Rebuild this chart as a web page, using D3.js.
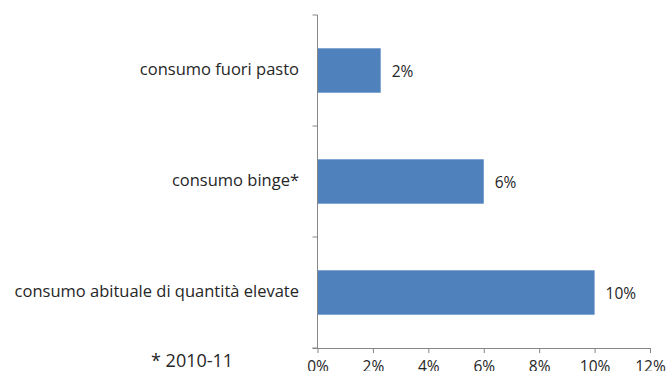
<!DOCTYPE html>
<html><head><meta charset="utf-8">
<script src="https://cdn.jsdelivr.net/npm/d3@7/dist/d3.min.js"></script>
<style>
html,body{margin:0;padding:0;background:#fff;overflow:hidden}
svg{display:block}
text{font-family:"Open Sans",sans-serif;fill:#262626}
</style></head>
<body>
<script>
const categories = ["consumo fuori pasto", "consumo binge*", "consumo abituale di quantità elevate"];
const values = [2.28, 6.0, 10.0];
const valueLabels = ["2%", "6%", "10%"];
const tickValues = [0, 2, 4, 6, 8, 10, 12];
const footnote = "* 2010-11";

const W = 668, H = 371;
const svg = d3.select("body").append("svg").attr("width", W).attr("height", H);

const x = d3.scaleLinear().domain([0, 12]).range([317.5, 650]);
const y = d3.scaleBand().domain(categories).range([15, 348]).paddingInner(0.6).paddingOuter(0.3);
const axisColor = "#868686";

// bars
svg.selectAll("rect.bar").data(values).enter().append("rect")
  .attr("x", x(0))
  .attr("y", (d, i) => y(categories[i]))
  .attr("width", d => x(d) - x(0))
  .attr("height", y.bandwidth())
  .attr("fill", "#4F81BD");

// value labels
svg.selectAll("text.val").data(values).enter().append("text")
  .attr("x", d => x(d) + 11)
  .attr("y", (d, i) => y(categories[i]) + y.bandwidth() / 2 + 2)
  .attr("dominant-baseline", "middle")
  .style("font-size", "15.5px")
  .text((d, i) => valueLabels[i]);

// y axis line and tick marks (band boundaries)
svg.append("line").attr("x1", x(0)).attr("x2", x(0)).attr("y1", 15).attr("y2", 348)
  .attr("stroke", axisColor).attr("stroke-width", 1);
const step = (348 - 15) / categories.length;
d3.range(categories.length + 1).forEach(i => {
  svg.append("line").attr("x1", x(0) - 5).attr("x2", x(0))
    .attr("y1", 15 + i * step).attr("y2", 15 + i * step)
    .attr("stroke", axisColor);
});

// category labels
svg.selectAll("text.cat").data(categories).enter().append("text")
  .attr("x", 299)
  .attr("y", d => y(d) + y.bandwidth() / 2)
  .attr("text-anchor", "end")
  .attr("dominant-baseline", "middle")
  .style("font-size", "16.5px")
  .text(d => d);

// x axis
const xAxis = d3.axisBottom(x).tickValues(tickValues).tickSize(5).tickPadding(8)
  .tickFormat(d => d + "%");
const gx = svg.append("g").attr("transform", "translate(0,348)").call(xAxis);
gx.select(".domain").attr("stroke", axisColor).attr("d", `M${x(0)-5},0.5H${x(12)}`);
gx.selectAll(".tick line").attr("stroke", axisColor);
gx.selectAll(".tick text").style("font-size", "15.5px").style("font-family", "'Open Sans',sans-serif").attr("fill", "#262626");

// footnote
svg.append("text").attr("x", 151).attr("y", 367)
  .style("font-size", "18px").text(footnote);
</script>
</body></html>
